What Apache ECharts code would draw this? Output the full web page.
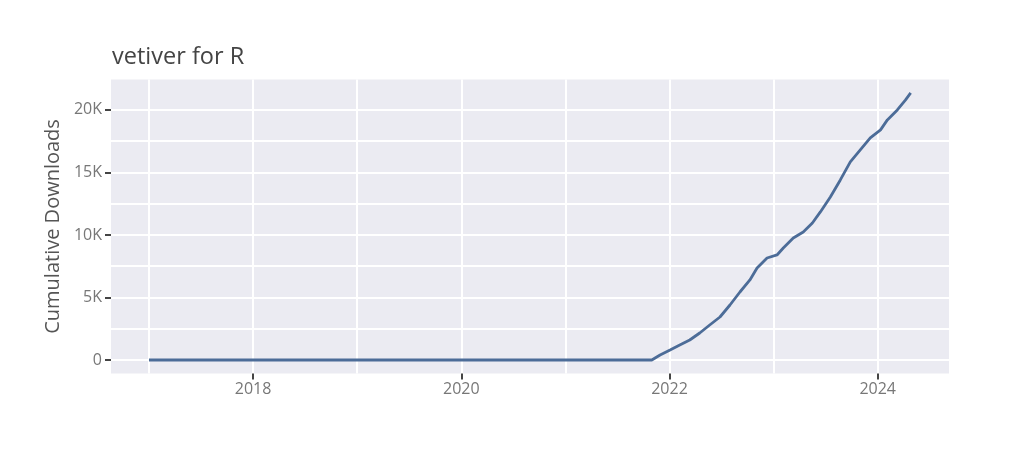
<!DOCTYPE html>
<html>
<head>
<meta charset="utf-8">
<script src="https://cdn.jsdelivr.net/npm/echarts@6/dist/echarts.min.js"></script>
<style>
html,body{margin:0;padding:0;background:#fff;}
#chart{width:1024px;height:454px;}
</style>
</head>
<body>
<div id="chart"></div>
<script>
const titleText = 'vetiver for R';
const yAxisTitle = 'Cumulative Downloads';
const dates = ['2017-01-01','2021-10-31','2021-11-29','2022-01-03','2022-02-06','2022-03-13','2022-04-17','2022-05-22','2022-06-27','2022-08-01','2022-09-05','2022-10-10','2022-11-04','2022-12-09','2023-01-13','2023-02-04','2023-03-11','2023-04-15','2023-05-17','2023-06-14','2023-07-19','2023-08-23','2023-09-27','2023-11-01','2023-12-06','2024-01-11','2024-02-04','2024-03-10','2024-04-08','2024-04-26'];
const downloads = [0,0,400,800,1200,1600,2160,2800,3440,4400,5440,6400,7360,8160,8400,8960,9760,10240,10960,11840,13040,14400,15840,16800,17760,18400,19200,20000,20800,21360];
const xTickYears = [2018,2020,2022,2024];
const xGridYears = [2017,2018,2019,2020,2021,2022,2023,2024];
const yTickValues = [0,5000,10000,15000,20000];
const yTickLabels = ['0','5K','10K','15K','20K'];
const yGridValues = [0,2500,5000,7500,10000,12500,15000,17500,20000];

function decYear(s){
  const p = s.split('-').map(Number);
  const start = Date.UTC(p[0],0,1), end = Date.UTC(p[0]+1,0,1);
  return p[0] + (Date.UTC(p[0],p[1]-1,p[2]) - start)/(end - start);
}
const seriesData = dates.map((d,i)=>[decYear(d), downloads[i]]);

const X_MIN = 2016.635, X_MAX = 2024.685, Y_MIN = -1070, Y_MAX = 22430;
const chart = echarts.init(document.getElementById('chart'), null, {renderer:'canvas'});
const FONT = '"Open Sans", sans-serif';
const gridLine = {show:true, showMinLine:true, showMaxLine:true, lineStyle:{color:'#ffffff', width:2}};
chart.setOption({
  animation:false,
  backgroundColor:'#ffffff',
  title:{
    text:titleText, left:107, top:40,
    textStyle:{fontFamily:FONT, fontSize:23.5, fontWeight:'normal', color:'#444'}
  },
  grid:{left:111, right:75, top:79.5, bottom:80.6, show:true, backgroundColor:'#EBEBF2', borderWidth:0, containLabel:false},
  xAxis:[{
    type:'value', min:X_MIN, max:X_MAX, position:'bottom',
    axisLine:{show:false, onZero:false},
    axisTick:{show:true, length:6, lineStyle:{color:'#444', width:2}, customValues:xTickYears},
    axisLabel:{show:true, customValues:xTickYears, formatter:v=>String(Math.round(v)), margin:8,
      fontFamily:FONT, fontSize:16, color:'#777'},
    splitLine:{show:false}
  },{
    type:'value', min:X_MIN, max:X_MAX, position:'bottom',
    axisLine:{show:false, onZero:false},
    axisTick:{show:false, customValues:xGridYears},
    axisLabel:{show:false, customValues:xGridYears},
    splitLine:gridLine
  }],
  yAxis:[{
    type:'value', min:Y_MIN, max:Y_MAX, position:'left',
    name:yAxisTitle, nameLocation:'middle', nameGap:43,
    nameTextStyle:{fontFamily:FONT, fontSize:20, color:'#555'},
    axisLine:{show:false, onZero:false},
    axisTick:{show:true, length:6, lineStyle:{color:'#444', width:2}, customValues:yTickValues},
    axisLabel:{show:true, customValues:yTickValues, margin:9,
      formatter:v=>yTickLabels[yTickValues.indexOf(Math.round(v))] ?? '',
      fontFamily:FONT, fontSize:16, color:'#777'},
    splitLine:{show:false}
  },{
    type:'value', min:Y_MIN, max:Y_MAX, position:'left',
    axisLine:{show:false, onZero:false},
    axisTick:{show:false, customValues:yGridValues},
    axisLabel:{show:false, customValues:yGridValues},
    splitLine:gridLine
  }],
  series:[{
    type:'line', data:seriesData, showSymbol:false, symbol:'none', xAxisIndex:0, yAxisIndex:0,
    lineStyle:{color:'#4c6c98', width:2.8}, itemStyle:{color:'#4c6c98'}, z:3
  }]
});
</script>
</body>
</html>
